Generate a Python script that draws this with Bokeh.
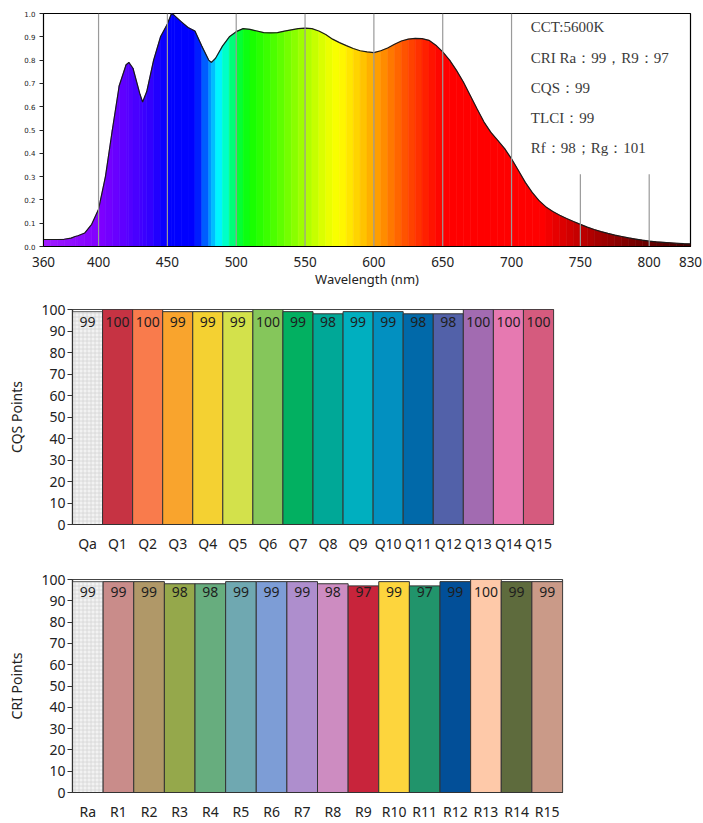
import numpy as np
from bokeh.plotting import figure
from bokeh.models import Range1d, FactorRange, Label, NumeralTickFormatter
from bokeh.embed import file_html
from bokeh.resources import INLINE
from bokeh.core.properties import value

# ---------------- data ----------------
wavelengths = [360, 365, 370, 375, 380, 383, 385, 390, 395, 400, 405, 410, 415, 420, 422, 425,
               430, 432, 435, 440, 445, 450, 453, 455, 460, 465, 470, 475, 480, 482, 485, 490,
               495, 500, 505, 510, 515, 520, 525, 530, 535, 540, 545, 550, 555, 560, 565, 570,
               575, 580, 585, 590, 595, 600, 605, 610, 615, 620, 625, 630, 635, 640, 645, 650,
               655, 660, 665, 670, 675, 680, 685, 690, 695, 700, 705, 710, 715, 720, 725, 730,
               735, 740, 745, 750, 755, 760, 765, 770, 775, 780, 785, 790, 795, 800, 805, 810,
               815, 820, 825, 830]
spectrum = [0.030, 0.030, 0.030, 0.031, 0.036, 0.043, 0.046, 0.058, 0.095, 0.160, 0.300, 0.500,
            0.690, 0.780, 0.790, 0.765, 0.655, 0.620, 0.665, 0.800, 0.900, 0.955, 1.000, 0.992,
            0.965, 0.940, 0.925, 0.860, 0.800, 0.790, 0.808, 0.860, 0.900, 0.922, 0.935, 0.932,
            0.925, 0.918, 0.917, 0.918, 0.924, 0.930, 0.935, 0.937, 0.935, 0.925, 0.910, 0.890,
            0.875, 0.862, 0.850, 0.840, 0.835, 0.832, 0.840, 0.852, 0.868, 0.882, 0.890, 0.893,
            0.892, 0.885, 0.864, 0.835, 0.800, 0.756, 0.706, 0.648, 0.590, 0.534, 0.490, 0.455,
            0.420, 0.376, 0.326, 0.275, 0.232, 0.197, 0.170, 0.150, 0.134, 0.120, 0.107, 0.095,
            0.083, 0.073, 0.064, 0.056, 0.049, 0.043, 0.037, 0.032, 0.027, 0.023, 0.020, 0.018,
            0.016, 0.014, 0.012, 0.011]
x_ticks = [360, 400, 450, 500, 550, 600, 650, 700, 750, 800, 830]
grid_lines = [400, 450, 500, 550, 600, 650, 700, 750, 800]
info_lines = ["CCT:5600K", "CRI Ra：99，R9：97", "CQS：99", "TLCI：99", "Rf：98；Rg：101"]

cqs_cats = ["Qa", "Q1", "Q2", "Q3", "Q4", "Q5", "Q6", "Q7", "Q8", "Q9", "Q10", "Q11", "Q12",
            "Q13", "Q14", "Q15"]
cqs_vals = [99, 100, 100, 99, 99, 99, 100, 99, 98, 99, 99, 98, 98, 100, 100, 100]
cqs_colors = ["#f2f2f2", "#c63343", "#f97b4c", "#f9a42d", "#f4d132", "#d3e14b", "#85c65b",
              "#02b061", "#00a897", "#00afbf", "#0290c0", "#0169a9", "#5261a9", "#a26bb1",
              "#e679b1", "#d55b7e"]

cri_cats = ["Ra", "R1", "R2", "R3", "R4", "R5", "R6", "R7", "R8", "R9", "R10", "R11", "R12",
            "R13", "R14", "R15"]
cri_vals = [99, 99, 99, 98, 98, 99, 99, 99, 98, 97, 99, 97, 99, 100, 99, 99]
cri_colors = ["#f2f2f2", "#c98c8a", "#b09868", "#95a84b", "#67ad7e", "#6fa8b1", "#7d9dd6",
              "#ae8ecd", "#cd8cc1", "#c8243b", "#fdd53d", "#21946b", "#024f98", "#fec9a9",
              "#5e6b3d", "#ca9a88"]

# ---------------- style helpers ----------------
color_stops = [(360, "#a11cff"), (400, "#8200ff"), (420, "#5a00ff"), (440, "#2c00ff"),
               (450, "#0000ff"), (470, "#0000ff"), (476, "#0045ff"), (481, "#0095ff"),
               (486, "#00e8ff"), (489, "#00ffff"), (495, "#00ffa0"), (501, "#00ff40"),
               (510, "#10ff00"), (530, "#55ff00"), (550, "#a8ff00"), (565, "#e4ff00"),
               (575, "#ffff00"), (590, "#ffcc00"), (605, "#ff9500"), (620, "#ff5c00"),
               (638, "#ff1e00"), (650, "#ff0000"), (722, "#ff0000"), (742, "#d20000"),
               (765, "#a00000"), (795, "#6e0000"), (830, "#420000")]


def hex2rgb(h):
    return np.array([int(h[i:i + 2], 16) for i in (1, 3, 5)], dtype=float)


def wl_color(w):
    for (w0, c0), (w1, c1) in zip(color_stops[:-1], color_stops[1:]):
        if w0 <= w <= w1:
            t = (w - w0) / (w1 - w0)
            rgb = hex2rgb(c0) * (1 - t) + hex2rgb(c1) * t
            return "#%02x%02x%02x" % tuple(int(round(v)) for v in rgb)
    return color_stops[-1][1]


SANS = "Noto Sans"

# ---------------- spectrum figure ----------------
p1 = figure(width=703, height=290, output_backend="svg", toolbar_location=None,
            x_range=Range1d(360, 830), y_range=Range1d(0, 1),
            min_border_left=43, min_border_right=13, min_border_top=13, min_border_bottom=44)
p1.grid.visible = False
p1.outline_line_color = "black"
p1.outline_line_width = 1.2

xs, ys, cols = [], [], []
for i in range(len(wavelengths) - 1):
    w0, w1 = wavelengths[i], wavelengths[i + 1]
    xs.append([w0, w0, w1, w1])
    ys.append([0, spectrum[i], spectrum[i + 1], 0])
    cols.append(wl_color((w0 + w1) / 2))
p1.patches(xs, ys, fill_color=cols, line_color=cols, line_width=0.6)
p1.line(wavelengths, spectrum, line_color="#1a1a1a", line_width=1.2)

grid_top = [1.0 if g <= 700 else 0.31 for g in grid_lines]
p1.segment(x0=grid_lines, y0=[0] * len(grid_lines), x1=grid_lines, y1=grid_top,
           line_color="#9a9a9a", line_width=1.2)

p1.xaxis.ticker = x_ticks
p1.yaxis.ticker = [round(0.1 * i, 1) for i in range(11)]
p1.yaxis.formatter = NumeralTickFormatter(format="0.0")
p1.xaxis.major_tick_line_color = None
p1.xaxis.minor_tick_line_color = None
p1.yaxis.minor_tick_line_color = None
p1.yaxis.major_tick_in = 0
p1.yaxis.major_tick_out = 4
p1.yaxis.major_tick_line_color = "#222222"
p1.axis.axis_line_color = "black"
p1.xaxis.major_label_text_font = SANS
p1.xaxis.major_label_text_font_size = "13.5px"
p1.xaxis.major_label_text_color = "#222222"
p1.xaxis.major_label_standoff = 4
p1.yaxis.major_label_text_font = "DejaVu Sans"
p1.yaxis.major_label_text_font_size = "7px"
p1.yaxis.major_label_text_color = "#222222"
p1.yaxis.major_label_standoff = 4
p1.xaxis.axis_label = "Wavelength (nm)"
p1.xaxis.axis_label_text_font = SANS
p1.xaxis.axis_label_text_font_size = "13px"
p1.xaxis.axis_label_text_font_style = "normal"
p1.xaxis.axis_label_text_color = "#222222"
p1.xaxis.axis_label_standoff = 0

for k, txt in enumerate(info_lines):
    p1.add_layout(Label(x=714, y=0.94 - 0.129 * k, text=txt, text_font="Liberation Serif",
                        text_font_size="15px", text_color="#3a3a3a", text_baseline="middle"))


# ---------------- bar figures ----------------
def bar_fig(cats, vals, colors, ylabel, height, top, frame_h, frame_w):
    left = 72
    bottom = height - top - frame_h
    p = figure(width=left + frame_w + 5, height=height, output_backend="svg",
               toolbar_location=None, x_range=FactorRange(*cats, range_padding=0),
               y_range=Range1d(0, 100), min_border_left=left, min_border_right=5,
               min_border_top=top, min_border_bottom=bottom)
    p.grid.visible = False
    p.outline_line_color = "#444444"
    p.outline_line_width = 1.2
    p.vbar(x=cats[:1], top=vals[:1], width=1.0, fill_color=colors[0], line_color="#666666",
           line_width=1, hatch_pattern="+", hatch_color="#d6d6d6", hatch_scale=4,
           hatch_weight=0.8)
    p.vbar(x=cats[1:], top=vals[1:], width=1.0, fill_color=colors[1:], line_color="#333333",
           line_width=1)
    p.text(x=cats, y=[94.3] * len(cats), text=[str(v) for v in vals], text_align="center",
           text_baseline="middle", text_font=value(SANS), text_font_size="14px",
           text_color="#1e1e1e")
    p.yaxis.ticker = list(range(0, 101, 10))
    p.yaxis.minor_tick_line_color = None
    p.yaxis.major_tick_in = 0
    p.yaxis.major_tick_out = 5
    p.yaxis.major_tick_line_color = "#333333"
    p.xaxis.major_tick_line_color = None
    p.axis.axis_line_color = "#333333"
    p.axis.axis_line_width = 1.2
    p.axis.major_label_text_font = SANS
    p.axis.major_label_text_font_size = "14px"
    p.axis.major_label_text_color = "#222222"
    p.xaxis.major_label_standoff = 3
    p.yaxis.major_label_standoff = 2
    p.yaxis.axis_label = ylabel
    p.yaxis.axis_label_text_font = SANS
    p.yaxis.axis_label_text_font_size = "14px"
    p.yaxis.axis_label_text_font_style = "normal"
    p.yaxis.axis_label_text_color = "#222222"
    p.yaxis.axis_label_standoff = 12
    return p


p2 = bar_fig(cqs_cats, cqs_vals, cqs_colors, "CQS Points", 265, 19, 219, 481)
p3 = bar_fig(cri_cats, cri_vals, cri_colors, "CRI Points", 268, 24, 220, 490)

open("out.html", "w").write(file_html([p1, p2, p3], INLINE))
